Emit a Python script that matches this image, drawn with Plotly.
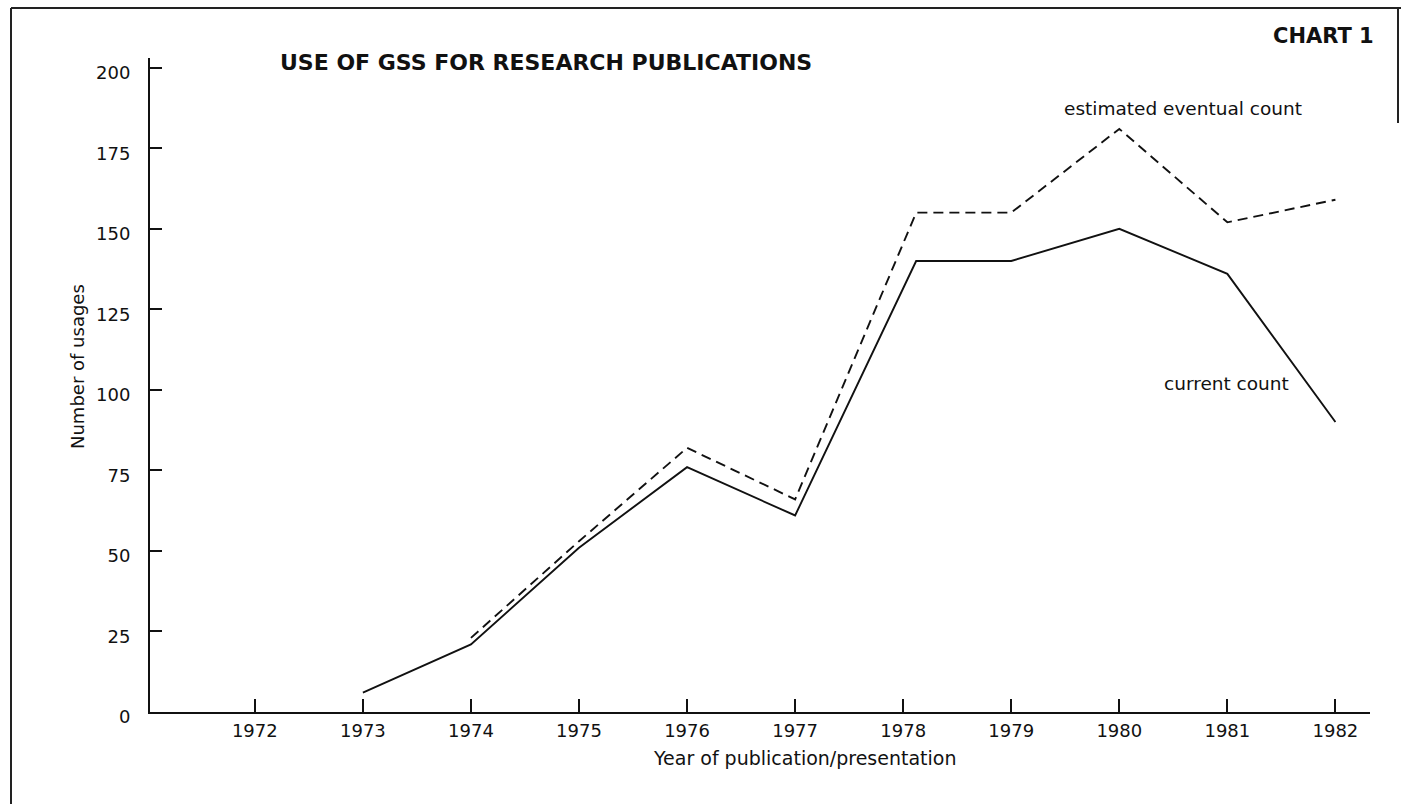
import plotly.graph_objects as go

# ---- data ----
years = [1973, 1974, 1975, 1976, 1977, 1978.12, 1979, 1980, 1981, 1982]
current_count = [6, 21, 51, 76, 61, 140, 140, 150, 136, 90]
est_years = [1974, 1975, 1976, 1977, 1978.12, 1979, 1980, 1981, 1982]
estimated_count = [23, 53, 82, 66, 155, 155, 181, 152, 159]
x_ticks = [1972, 1973, 1974, 1975, 1976, 1977, 1978, 1979, 1980, 1981, 1982]
y_ticks = [0, 25, 50, 75, 100, 125, 150, 175, 200]

W, H = 1401, 804
ML, MR, MT, MB = 150, 31, 58, 92
PW, PH = W - ML - MR, H - MT - MB
INK = "#111111"
FONT = "DejaVu Sans"


def px(x):
    return (x - ML) / PW


def py(y):
    return (H - MB - y) / PH


fig = go.Figure()
fig.add_trace(go.Scatter(x=est_years, y=estimated_count, mode="lines",
                         line=dict(color=INK, width=1.9, dash="10px,6px"),
                         name="estimated eventual count", showlegend=False))
fig.add_trace(go.Scatter(x=years, y=current_count, mode="lines",
                         line=dict(color=INK, width=1.9),
                         name="current count", showlegend=False))

fig.update_xaxes(range=[1971.03, 1982.32], tickvals=x_ticks,
                 ticktext=[str(v) for v in x_ticks],
                 ticks="inside", ticklen=13, tickwidth=2, tickcolor=INK,
                 showline=True, linecolor=INK, linewidth=2,
                 showgrid=False, zeroline=False,
                 tickfont=dict(family=FONT, size=18, color=INK),
                 ticklabelstandoff=1)
fig.update_yaxes(range=[0, 203], tickvals=y_ticks,
                 ticktext=[str(v) for v in y_ticks],
                 ticks="inside", ticklen=12, tickwidth=2, tickcolor=INK,
                 showline=True, linecolor=INK, linewidth=2,
                 showgrid=False, zeroline=False,
                 tickfont=dict(family=FONT, size=18, color=INK),
                 ticklabelstandoff=14, ticklabelshift=5)

annotations = [
    dict(text="<b>USE OF GSS FOR RESEARCH PUBLICATIONS</b>", x=px(278), y=py(62),
         xanchor="left", yanchor="middle", font=dict(size=22)),
    dict(text="<b>CHART 1</b>", x=px(1376), y=py(36),
         xanchor="right", yanchor="middle", font=dict(size=21)),
    dict(text="estimated eventual count", x=px(1183), y=py(108),
         xanchor="center", yanchor="middle", font=dict(size=18.5)),
    dict(text="current count", x=px(1226), y=py(383),
         xanchor="center", yanchor="middle", font=dict(size=18.5)),
    dict(text="Number of usages", x=px(77), y=py(367), textangle=-90,
         xanchor="center", yanchor="middle", font=dict(size=18)),
    dict(text="Year of publication/presentation", x=px(805), y=py(758),
         xanchor="center", yanchor="middle", font=dict(size=19)),
]
for a in annotations:
    a.update(xref="paper", yref="paper", showarrow=False)
    a["font"].update(family=FONT, color=INK)
    fig.add_annotation(**a)

frame = [((11, 8), (W, 8)), ((11, 8), (11, H)), ((1398, 8), (1398, 123))]
for (x0, y0), (x1, y1) in frame:
    fig.add_shape(type="line", xref="paper", yref="paper",
                  x0=px(x0), y0=py(y0), x1=px(x1), y1=py(y1),
                  line=dict(color="#222222", width=2))

fig.update_layout(width=W, height=H,
                  margin=dict(l=ML, r=MR, t=MT, b=MB, pad=0),
                  paper_bgcolor="white", plot_bgcolor="white",
                  font=dict(family=FONT, color=INK))

fig.write_html("out.html", config={"displayModeBar": False},
               post_script="document.body.style.margin='0';document.body.style.overflow='hidden';")
